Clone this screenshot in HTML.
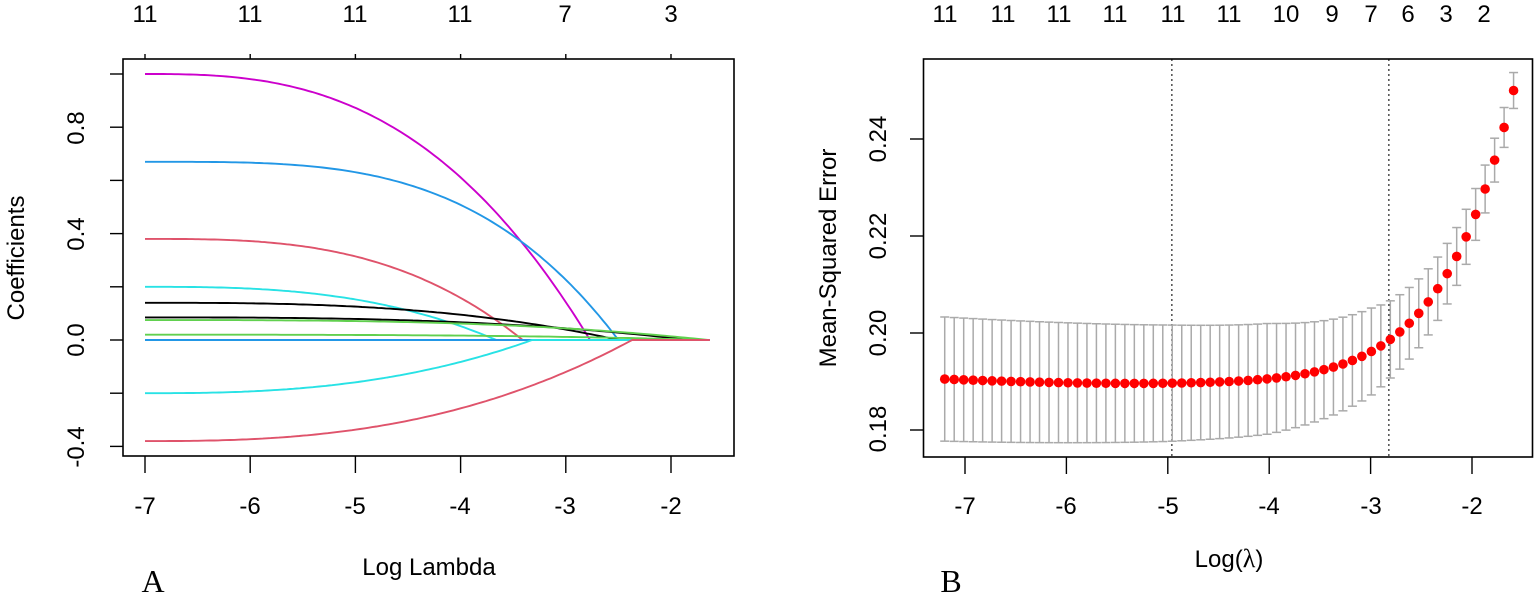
<!DOCTYPE html>
<html><head><meta charset="utf-8"><style>
html,body{margin:0;padding:0;background:#fff;}
svg{display:block;font-family:"Liberation Sans",sans-serif;}
</style></head><body>
<svg id="s" width="1535" height="595" viewBox="0 0 1535 595" xmlns="http://www.w3.org/2000/svg">
<rect width="1535" height="595" fill="#fff"/>
<g id="A" fill="none" stroke-width="1.9"></g>
<rect x="123" y="59" width="611" height="397" fill="none" stroke="#000" stroke-width="1.6"/>
<g font-size="24" text-anchor="middle" fill="#000">
<text x="145" y="514">-7</text><text x="250" y="514">-6</text><text x="355" y="514">-5</text>
<text x="460" y="514">-4</text><text x="565" y="514">-3</text><text x="671" y="514">-2</text>
<text x="145" y="22">11</text><text x="250" y="22">11</text><text x="355" y="22">11</text>
<text x="460" y="22">11</text><text x="565" y="22">7</text><text x="671" y="22">3</text>
<text transform="translate(84,128) rotate(-90)">0.8</text>
<text transform="translate(84,234) rotate(-90)">0.4</text>
<text transform="translate(84,340) rotate(-90)">0.0</text>
<text transform="translate(84,447) rotate(-90)">-0.4</text>
<text transform="translate(24,258) rotate(-90)" font-size="24">Coefficients</text>
<text x="429" y="575" font-size="24">Log Lambda</text>
<text x="153" y="592" font-size="32" font-family="Liberation Serif,serif">A</text>
</g>
<g id="Aticks" stroke="#000" stroke-width="1.4"></g>
<g id="B"></g>
<rect x="923.5" y="59" width="609" height="398" fill="none" stroke="#000" stroke-width="1.6"/>
<g font-size="24" text-anchor="middle" fill="#000">
<text x="965" y="514">-7</text><text x="1066" y="514">-6</text><text x="1168" y="514">-5</text>
<text x="1269" y="514">-4</text><text x="1371" y="514">-3</text><text x="1472" y="514">-2</text>
<text x="945" y="22">11</text><text x="1003" y="22">11</text><text x="1059" y="22">11</text>
<text x="1115" y="22">11</text><text x="1173" y="22">11</text><text x="1229" y="22">11</text>
<text x="1286" y="22">10</text><text x="1332" y="22">9</text><text x="1371" y="22">7</text>
<text x="1408" y="22">6</text><text x="1446" y="22">3</text><text x="1484" y="22">2</text>
<text transform="translate(886,139) rotate(-90)">0.24</text>
<text transform="translate(886,236) rotate(-90)">0.22</text>
<text transform="translate(886,333) rotate(-90)">0.20</text>
<text transform="translate(886,429) rotate(-90)">0.18</text>
<text transform="translate(836,258) rotate(-90)" font-size="24">Mean-Squared Error</text>
<text x="1229" y="567" font-size="24">Log(<tspan font-family="Liberation Serif,serif" font-size="26">λ</tspan>)</text>
<text x="951" y="592" font-size="32" font-family="Liberation Serif,serif">B</text>
</g>
</svg>
<script>
var NS="http://www.w3.org/2000/svg";
function el(p,t,a){var e=document.createElementNS(NS,t);for(var k in a)e.setAttribute(k,a[k]);p.appendChild(e);return e;}
var A=document.getElementById("A"),AT=document.getElementById("Aticks");
function xa(v){return 145+105.2*(v+7);} function ya(c){return 340-266*c;}
[-7,-6,-5,-4,-3,-2].forEach(function(v){el(AT,"line",{x1:xa(v),x2:xa(v),y1:456,y2:473});el(AT,"line",{x1:xa(v),x2:xa(v),y1:54,y2:59});});
[1.0,0.8,0.6,0.4,0.2,0,-0.2,-0.4].forEach(function(c){el(AT,"line",{x1:110,x2:123,y1:ya(c),y2:ya(c)});});
var curves=[[1.0,-2.77,"#cc00cc",2.75],[0.67,-2.5,"#2297e6",3.5],[0.38,-3.41,"#df536b",3.0],[0.2,-3.66,"#28e2e5",2.8],[0.14,-2.5,"#000",2.8],[0.085,-1.82,"#000",2.8],[0.075,-1.65,"#61d04f",3],[0.02,-1.65,"#61d04f",3],[0,-1.65,"#2297e6",2],[-0.2,-3.32,"#28e2e5",2.6],[-0.38,-2.37,"#df536b",2.6]];
curves.forEach(function(c){var d="";for(var i=0;i<=120;i++){var v=-7+(c[1]+7)*i/120;var t=(v+7)/(c[1]+7);var y=c[0]*(1-Math.pow(t,c[3]));d+=(i?"L":"M")+xa(v).toFixed(1)+","+ya(y).toFixed(1);}
d+="L"+xa(-1.63)+","+ya(0);el(A,"path",{d:d,stroke:c[2]});});
var B=document.getElementById("B");
function xb(v){return 965+101.4*(v+7);} function yb(m){return 333-4850*(m-0.2);}
[-7,-6,-5,-4,-3,-2].forEach(function(v){el(B,"line",{x1:xb(v),x2:xb(v),y1:457,y2:474,stroke:"#000","stroke-width":1.4});});
[0.24,0.22,0.20,0.18].forEach(function(m){el(B,"line",{x1:910,x2:923.5,y1:yb(m),y2:yb(m),stroke:"#000","stroke-width":1.4});});
[-4.96,-2.82].forEach(function(v){el(B,"line",{x1:xb(v),x2:xb(v),y1:59,y2:457,stroke:"#333","stroke-width":1.3,"stroke-dasharray":"2,3"});});
function mse(v){var d=v+1.59;var m=0.1895+0.0605*Math.exp(1.43*d-0.1*d*d);if(v<-4.9){var t=(v+4.9)/2.3;m+=0.001*t*t;}return m;}
var S=[[-7.2,0.0128],[-5,0.012],[-4,0.0114],[-3,0.009],[-2.82,0.008],[-2,0.0055],[-1.59,0.0037]];
function se(v){for(var i=1;i<S.length;i++){if(v<=S[i][0]+1e-9){var a=S[i-1],b=S[i];return a[1]+(b[1]-a[1])*(v-a[0])/(b[0]-a[0]);}}return 0.0037;}
var pts=[];for(var i=0;i<61;i++){pts.push(-7.2+5.61*i/60);}
pts.forEach(function(v){var m=mse(v),s=se(v),x=xb(v);
el(B,"line",{x1:x,x2:x,y1:yb(m+s),y2:yb(m-s),stroke:"#aaa","stroke-width":1.5});
el(B,"line",{x1:x-4.5,x2:x+4.5,y1:yb(m+s),y2:yb(m+s),stroke:"#aaa","stroke-width":1.5});
el(B,"line",{x1:x-4.5,x2:x+4.5,y1:yb(m-s),y2:yb(m-s),stroke:"#aaa","stroke-width":1.5});});
pts.forEach(function(v){el(B,"circle",{cx:xb(v),cy:yb(mse(v)),r:4.8,fill:"#ff0000"});});
</script>
</body></html>
